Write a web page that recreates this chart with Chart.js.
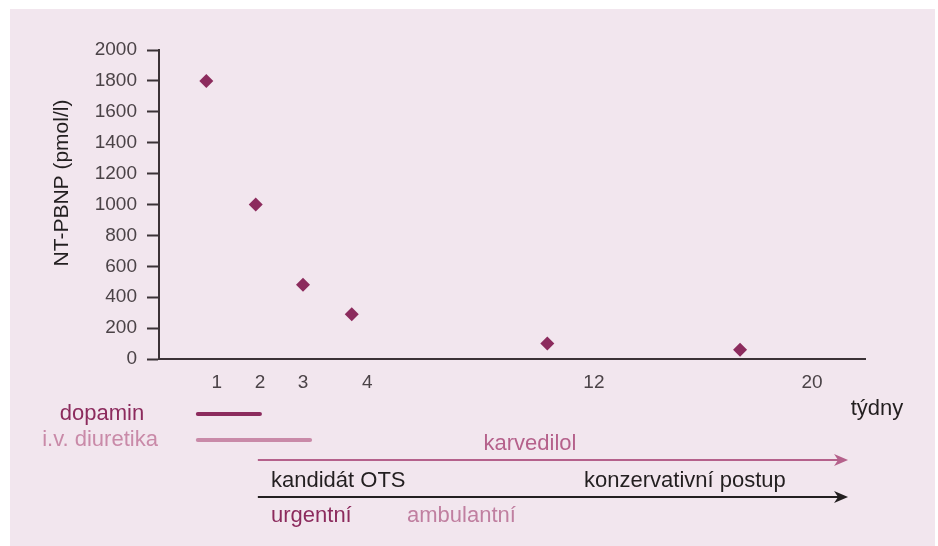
<!DOCTYPE html>
<html>
<head>
<meta charset="utf-8">
<script src="https://cdn.jsdelivr.net/npm/chart.js@4"></script>
<style>
  body { margin: 0; background: #fff; }
  #wrap { width: 938px; height: 546px; }
</style>
</head>
<body>
<div id="wrap"><canvas id="chart" width="938" height="546"></canvas></div>
<script>
// x positions are in "display units" (0..100 across the axis), the axis is not linear in weeks
const xTickPos = [8.2, 14.3, 20.4, 29.5, 61.6, 92.5];
const xTickLabels = ['1', '2', '3', '4', '12', '20'];
const pointX = [6.7, 13.7, 20.4, 27.3, 55.0, 82.3];
const ntpbnp = [1800, 1000, 480, 290, 100, 60];
const yTicks = [0, 200, 400, 600, 800, 1000, 1200, 1400, 1600, 1800, 2000];

// therapy bars: [start, end] in the same x units
const dopaminSpan = [5.5, 14.3];
const diuretikaSpan = [5.5, 21.4];
const karvedilolSpan = [14.0, 97.6];
const postupSpan = [14.0, 97.6];

const FONT = '"Liberation Sans", Arial, sans-serif';
const WINE = '#8c2b5d';
const PINK = '#c98aa8';
const ROSE = '#b5618b';
const INK = '#231f20';

function arrow(ctx, x1, x2, y, color) {
  ctx.save();
  ctx.strokeStyle = color;
  ctx.fillStyle = color;
  ctx.lineWidth = 2;
  ctx.beginPath();
  ctx.moveTo(x1, y);
  ctx.lineTo(x2 - 6, y);
  ctx.stroke();
  ctx.beginPath();
  ctx.moveTo(x2, y);
  ctx.lineTo(x2 - 14, y - 6);
  ctx.lineTo(x2 - 10, y);
  ctx.lineTo(x2 - 14, y + 6);
  ctx.closePath();
  ctx.fill();
  ctx.restore();
}

function bar(ctx, x1, x2, y, color) {
  ctx.save();
  ctx.strokeStyle = color;
  ctx.lineWidth = 4;
  ctx.lineCap = 'round';
  ctx.beginPath();
  ctx.moveTo(x1, y);
  ctx.lineTo(x2, y);
  ctx.stroke();
  ctx.restore();
}

function text(ctx, str, x, y, color, align) {
  ctx.fillStyle = color;
  ctx.textAlign = align || 'left';
  ctx.fillText(str, x, y);
}

const decor = {
  id: 'decor',
  beforeDraw(chart) {
    const ctx = chart.ctx;
    ctx.save();
    ctx.fillStyle = '#f2e6ee';
    ctx.fillRect(10, 9, 925, 537);
    ctx.restore();
  },
  afterDraw(chart) {
    const ctx = chart.ctx;
    const x = chart.scales.x;
    const px = (v) => x.getPixelForValue(v);
    ctx.save();
    ctx.textBaseline = 'middle';

    // y title
    ctx.save();
    ctx.translate(62, 183);
    ctx.rotate(-Math.PI / 2);
    ctx.font = '21px ' + FONT;
    text(ctx, 'NT-PBNP (pmol/l)', 0, 0, INK, 'center');
    ctx.restore();

    ctx.font = '22px ' + FONT;
    text(ctx, 'týdny', 877, 409, INK, 'center');

    bar(ctx, px(dopaminSpan[0]), px(dopaminSpan[1]), 414, WINE);
    text(ctx, 'dopamin', 102, 414, WINE, 'center');

    bar(ctx, px(diuretikaSpan[0]), px(diuretikaSpan[1]), 440, PINK);
    text(ctx, 'i.v. diuretika', 100, 440, PINK, 'center');

    arrow(ctx, px(karvedilolSpan[0]), px(karvedilolSpan[1]), 460, ROSE);
    text(ctx, 'karvedilol', 530, 444, ROSE, 'center');

    arrow(ctx, px(postupSpan[0]), px(postupSpan[1]), 497, INK);
    text(ctx, 'kandidát OTS', 271, 481, INK);
    text(ctx, 'konzervativní postup', 584, 481, INK);
    text(ctx, 'urgentní', 271, 516, WINE);
    text(ctx, 'ambulantní', 407, 516, '#c07fa0');
    ctx.restore();
  }
};

new Chart(document.getElementById('chart').getContext('2d'), {
  type: 'scatter',
  data: {
    datasets: [
      {
        data: pointX.map((v, i) => ({ x: v, y: ntpbnp[i] })),
        pointStyle: 'rectRot',
        pointRadius: 7,
        pointHoverRadius: 7,
        backgroundColor: WINE,
        borderColor: WINE,
        borderWidth: 0,
      },
    ],
  },
  options: {
    responsive: false,
    animation: false,
    layout: { padding: { top: 50, right: 73, left: 0, bottom: 0 } },
    plugins: { legend: { display: false }, tooltip: { enabled: false } },
    scales: {
      x: {
        type: 'linear',
        min: 0,
        max: 100,
        afterFit: (s) => { s.height = 187; },
        afterBuildTicks: (s) => { s.ticks = xTickPos.map((v) => ({ value: v })); },
        grid: { display: false, drawTicks: false },
        border: { display: true, color: '#3b3236', width: 2 },
        ticks: {
          autoSkip: false,
          maxRotation: 0,
          padding: 12,
          color: '#4b4347',
          font: { family: FONT, size: 19 },
          callback: (v) => xTickLabels[xTickPos.indexOf(v)],
        },
      },
      y: {
        min: 0,
        max: 2000,
        afterFit: (s) => { s.width = 159; },
        afterBuildTicks: (s) => { s.ticks = yTicks.map((v) => ({ value: v })); },
        grid: {
          drawOnChartArea: false,
          drawTicks: true,
          tickLength: 12,
          tickWidth: 2,
          tickColor: '#3b3236',
        },
        border: { display: true, color: '#3b3236', width: 2 },
        ticks: {
          padding: 10,
          color: '#4b4347',
          font: { family: FONT, size: 19 },
          callback: (v) => String(v),
        },
      },
    },
  },
  plugins: [decor],
});
</script>
</body>
</html>
